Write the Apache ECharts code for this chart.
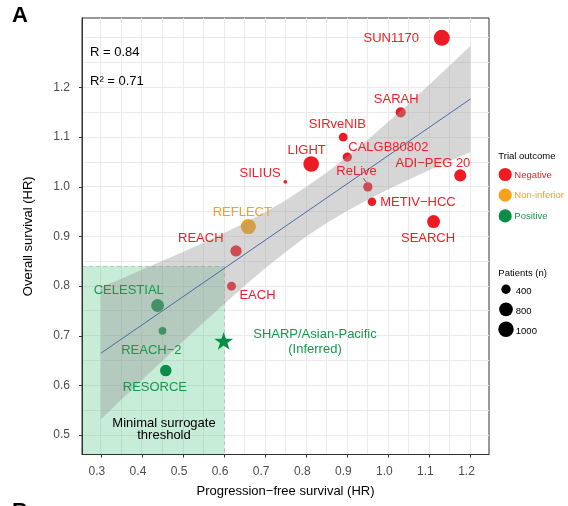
<!DOCTYPE html>
<html><head><meta charset="utf-8">
<script src="https://cdn.jsdelivr.net/npm/echarts@6/dist/echarts.min.js"></script>
<style>html,body{margin:0;padding:0;background:#fff}#c{width:568px;height:506px}</style>
</head><body><div id="c"></div>
<script>
// ---------- data ----------
const TRIALS   = ['SUN1170','SARAH','SIRveNIB','CALGB80802','LIGHT','ReLive','ADI\u2212PEG 20','SILIUS','METIV\u2212HCC','SEARCH','REFLECT','REACH','EACH','CELESTIAL','REACH\u22122','RESORCE'];
const PFS_HR   = [1.13, 1.03, 0.89, 0.90, 0.812, 0.95, 1.175, 0.749, 0.96, 1.11, 0.659, 0.629, 0.618, 0.438, 0.45, 0.458];
const OS_HR    = [1.30, 1.15, 1.10, 1.06, 1.046, 1.00, 1.023, 1.01, 0.97, 0.93, 0.92, 0.871, 0.80, 0.761, 0.71, 0.63];
const PATIENTS = [1074, 459, 360, 390, 1035, 397, 635, 105, 340, 720, 954, 565, 371, 707, 292, 573];
const OUTCOME  = ['Negative','Negative','Negative','Negative','Negative','Negative','Negative','Negative','Negative','Negative','Non-inferior','Negative','Negative','Positive','Positive','Positive'];

const INFERRED_NAME = 'SHARP/Asian-Pacific\n(Inferred)';
const INFERRED_PFS = 0.599;
const INFERRED_OS = 0.69;

const FIT_X = [0.30, 1.20];
const FIT_Y = [0.665, 1.177];

const BAND_X  = [0.30,0.35,0.40,0.45,0.50,0.55,0.60,0.65,0.70,0.75,0.80,0.85,0.90,0.95,1.00,1.05,1.10,1.15,1.20];
const BAND_LO = [0.532,0.572,0.611,0.650,0.689,0.727,0.764,0.801,0.836,0.869,0.900,0.927,0.952,0.974,0.995,1.015,1.034,1.052,1.070];
const BAND_HI = [0.798,0.815,0.833,0.851,0.869,0.888,0.907,0.927,0.949,0.973,1.000,1.029,1.061,1.095,1.131,1.168,1.206,1.245,1.284];

const THRESHOLD_PFS = 0.60;
const THRESHOLD_OS = 0.84;

const X_TICKS = [0.3,0.4,0.5,0.6,0.7,0.8,0.9,1.0,1.1,1.2];
const Y_TICKS = [0.5,0.6,0.7,0.8,0.9,1.0,1.1,1.2];
const X_GRID = [0.30,0.35,0.40,0.45,0.50,0.55,0.60,0.65,0.70,0.75,0.80,0.85,0.90,0.95,1.00,1.05,1.10,1.15,1.20];
const Y_GRID = [0.50,0.55,0.60,0.65,0.70,0.75,0.80,0.85,0.90,0.95,1.00,1.05,1.10,1.15,1.20,1.25,1.30];

const OUTCOMES = ['Negative','Non-inferior','Positive'];
const SIZE_BREAKS = [400, 800, 1000];
const R_TEXT = 'R = 0.84';
const R2_TEXT = 'R\u00B2 = 0.71';

// ---------- styles / positions ----------
const X_MIN = 0.254, X_MAX = 1.245, Y_MIN = 0.461, Y_MAX = 1.34;
const FONT = '"Liberation Sans", Arial, Helvetica, sans-serif';
const COLORS = {'Negative':'#ED1C24','Non-inferior':'#F7A21B','Positive':'#0A8D46'};
const LABEL_COLORS = {'Negative':'#EC2027','Non-inferior':'#F4A124','Positive':'#18984C'};
const LABEL_OFFSET = {
  'SUN1170':[-50.6,0.3], 'SARAH':[-4.5,-13.3], 'SIRveNIB':[-5.8,-13], 'CALGB80802':[41.1,-10],
  'LIGHT':[-4.5,-14], 'ReLive':[-11.3,-15.6], 'ADI\u2212PEG 20':[-27.3,-12.4], 'SILIUS':[-25.2,-8.3],
  'METIV\u2212HCC':[46,1], 'SEARCH':[-5.5,16.7], 'REFLECT':[-6,-14], 'REACH':[-35.2,-12],
  'EACH':[26,9.3], 'CELESTIAL':[-28.8,-15], 'REACH\u22122':[-11.1,19.7], 'RESORCE':[-10.9,17],
  'SHARP/Asian-Pacific\n(Inferred)':[91.3,1.2]
};
const sizeOf = n => Math.sqrt(0.25 * n - 12);
const STAR = 'path://M50,0 L61.8,35.1 L98.9,35.1 L69,56.7 L80.3,91.6 L50,70 L19.7,91.6 L31,56.7 L1.1,35.1 L38.2,35.1 Z';
const crisp = v => Math.round(v - 0.5) + 0.5;

// ---------- series ----------
const series = [];
series.push({
  type:'custom', name:'vgrid', z:1, silent:true,
  data: X_GRID.map(v => [v, Y_MIN]),
  renderItem: (p, api) => {
    const v = api.value(0);
    const a = api.coord([v, Y_MIN]), b = api.coord([v, Y_MAX]);
    const x = crisp(a[0]);
    return {type:'line', shape:{x1:x, y1:a[1], x2:x, y2:b[1]}, style:{stroke:'#EBEBEB', lineWidth:1}};
  }
});
series.push({
  type:'custom', name:'hgrid', z:1, silent:true,
  data: Y_GRID.map(v => [X_MIN, v]),
  renderItem: (p, api) => {
    const v = api.value(1);
    const a = api.coord([X_MIN, v]), b = api.coord([X_MAX, v]);
    const y = crisp(a[1]);
    return {type:'line', shape:{x1:a[0], y1:y, x2:b[0], y2:y}, style:{stroke:'#EBEBEB', lineWidth:1}};
  }
});
series.push({
  type:'custom', name:'threshold', z:1, silent:true,
  data: [[THRESHOLD_PFS, THRESHOLD_OS]],
  renderItem: (p, api) => {
    const lo = api.coord([X_MIN, Y_MIN]);
    const hi = api.coord([api.value(0), api.value(1)]);
    return {type:'group', children:[
      {type:'rect', shape:{x:lo[0], y:hi[1], width:hi[0]-lo[0], height:lo[1]-hi[1]}, style:{fill:'rgba(20,175,90,0.24)'}},
      {type:'line', shape:{x1:lo[0], y1:crisp(hi[1]), x2:hi[0], y2:crisp(hi[1])}, style:{stroke:'rgba(150,165,155,0.55)', lineWidth:1, lineDash:[4,3]}},
      {type:'line', shape:{x1:crisp(hi[0]), y1:hi[1], x2:crisp(hi[0]), y2:lo[1]}, style:{stroke:'rgba(150,165,155,0.55)', lineWidth:1, lineDash:[4,3]}}
    ]};
  }
});
OUTCOMES.forEach(o => {
  const data = [];
  TRIALS.forEach((t, i) => { if (OUTCOME[i] === o) data.push([PFS_HR[i], OS_HR[i], PATIENTS[i], t]); });
  series.push({
    type:'scatter', name:o, z:2, data,
    symbol:'circle', symbolSize: v => sizeOf(v[2]),
    itemStyle:{color:COLORS[o], opacity:1},
    emphasis:{disabled:true}
  });
});
series.push({
  type:'scatter', name:'inferred', z:2, data:[[INFERRED_PFS, INFERRED_OS]],
  symbol:STAR, symbolSize:19, symbolKeepAspect:true,
  itemStyle:{color:COLORS['Positive'], opacity:1}, emphasis:{disabled:true}
});
series.push({
  type:'custom', name:'band', z:3, silent:true,
  data:[[BAND_X[0], BAND_LO[0]]],
  renderItem: (p, api) => {
    const pts = [];
    BAND_X.forEach((x, i) => pts.push(api.coord([x, BAND_HI[i]])));
    for (let i = BAND_X.length - 1; i >= 0; i--) pts.push(api.coord([BAND_X[i], BAND_LO[i]]));
    return {type:'polygon', shape:{points:pts}, style:{fill:'rgba(153,153,153,0.4)'}};
  }
});
series.push({
  type:'line', name:'fit', z:4, silent:true,
  data: FIT_X.map((x, i) => [x, FIT_Y[i]]),
  symbol:'none', lineStyle:{color:'#4A6BA6', width:1}
});
const LABEL_ITEMS = TRIALS.map((t, i) => ({name:t, x:PFS_HR[i], y:OS_HR[i], color:LABEL_COLORS[OUTCOME[i]]}));
LABEL_ITEMS.push({name:INFERRED_NAME, x:INFERRED_PFS, y:INFERRED_OS, color:LABEL_COLORS['Positive']});
series.push({
  type:'custom', name:'labels', z:5, silent:true,
  data: LABEL_ITEMS.map(d => [d.x, d.y]),
  renderItem: (p, api) => {
    const d = LABEL_ITEMS[p.dataIndex];
    const c = api.coord([d.x, d.y]);
    const off = LABEL_OFFSET[d.name] || [0, 0];
    const children = [{
      type:'text', x:c[0] + off[0], y:c[1] + off[1],
      style:{text:d.name, fill:d.color, font:'13px ' + FONT, align:'center', verticalAlign:'middle', lineHeight:14.3}
    }];
    if (d.name === 'ReLive') {
      children.push({type:'line', shape:{x1:c[0]-4.5, y1:c[1]-8.5, x2:c[0]-1.5, y2:c[1]-4.5}, style:{stroke:'#C0303A', lineWidth:1}});
    }
    return {type:'group', children};
  }
});

// ---------- legend & annotations (graphic) ----------
const graphic = [];
const txt = (text, x, y, size, fill, opts) => ({
  type:'text', x, y, z:100, silent:true,
  style:Object.assign({text, fill, font:size + 'px ' + FONT, align:'left', verticalAlign:'middle', textAlign:'left', textVerticalAlign:'middle'}, (opts||{}))
});
graphic.push(txt('A', 12, 16, 22, '#000', {font:'bold 22px ' + FONT}));
graphic.push(txt('B', 12, 512, 22, '#000', {font:'bold 22px ' + FONT}));
graphic.push(txt(R_TEXT, 90, 52.5, 13, '#000'));
graphic.push(txt(R2_TEXT, 90, 81, 13, '#000'));
graphic.push(txt('Minimal surrogate\nthreshold', 164, 429.3, 13, '#000', {align:'center', textAlign:'center', lineHeight:11.8}));
graphic.push(txt('Trial outcome', 498.3, 156, 9.5, '#000'));
OUTCOMES.forEach((o, i) => {
  const y = 174.5 + i * 20.7;
  graphic.push({type:'circle', z:100, silent:true, shape:{cx:505.2, cy:y, r:6.6}, style:{fill:COLORS[o]}});
  graphic.push(txt(o, 514.3, y + 0.5, 9.5, LABEL_COLORS[o]));
});
graphic.push(txt('Patients (n)', 498.3, 273.5, 9.5, '#000'));
SIZE_BREAKS.forEach((n, i) => {
  const y = 289.3 + i * 20;
  graphic.push({type:'circle', z:100, silent:true, shape:{cx:506, cy:y, r:sizeOf(n) / 2}, style:{fill:'#000'}});
  graphic.push(txt(String(n), 515.8, y + 2.3, 9.5, '#000'));
});

const option = {
  animation:false,
  textStyle:{fontFamily:FONT},
  grid:{left:82, right:79, top:18, bottom:51.5, show:true, borderColor:'#333', borderWidth:1, backgroundColor:'#fff', containLabel:false, outerBoundsMode:'none'},
  xAxis:{
    type:'value', min:X_MIN, max:X_MAX, z:10,
    name:'Progression\u2212free survival (HR)', nameLocation:'middle', nameGap:30.5, nameMoveOverlap:false,
    nameTextStyle:{fontSize:13, color:'#000', fontFamily:FONT},
    axisLine:{show:true, onZero:false, lineStyle:{color:'#333', width:1}},
    axisTick:{show:true, length:3, customValues:X_TICKS, lineStyle:{color:'#333'}},
    axisLabel:{customValues:X_TICKS, formatter:v => Number(v).toFixed(1), color:'#4D4D4D', fontSize:12, margin:11, padding:[0,8,0,0], fontFamily:FONT},
    splitLine:{show:false}
  },
  yAxis:{
    type:'value', min:Y_MIN, max:Y_MAX, z:10,
    name:'Overall survival (HR)', nameLocation:'middle', nameGap:47.5, nameMoveOverlap:false,
    nameTextStyle:{fontSize:13, color:'#000', fontFamily:FONT},
    axisLine:{show:true, onZero:false, lineStyle:{color:'#333', width:1}},
    axisTick:{show:true, length:3, customValues:Y_TICKS, lineStyle:{color:'#333'}},
    axisLabel:{customValues:Y_TICKS, formatter:v => Number(v).toFixed(1), color:'#4D4D4D', fontSize:12, margin:12, fontFamily:FONT},
    splitLine:{show:false}
  },
  series,
  graphic
};
const chart = echarts.init(document.getElementById('c'), null, {renderer:'canvas'});
chart.setOption(option);
</script>
</body></html>
